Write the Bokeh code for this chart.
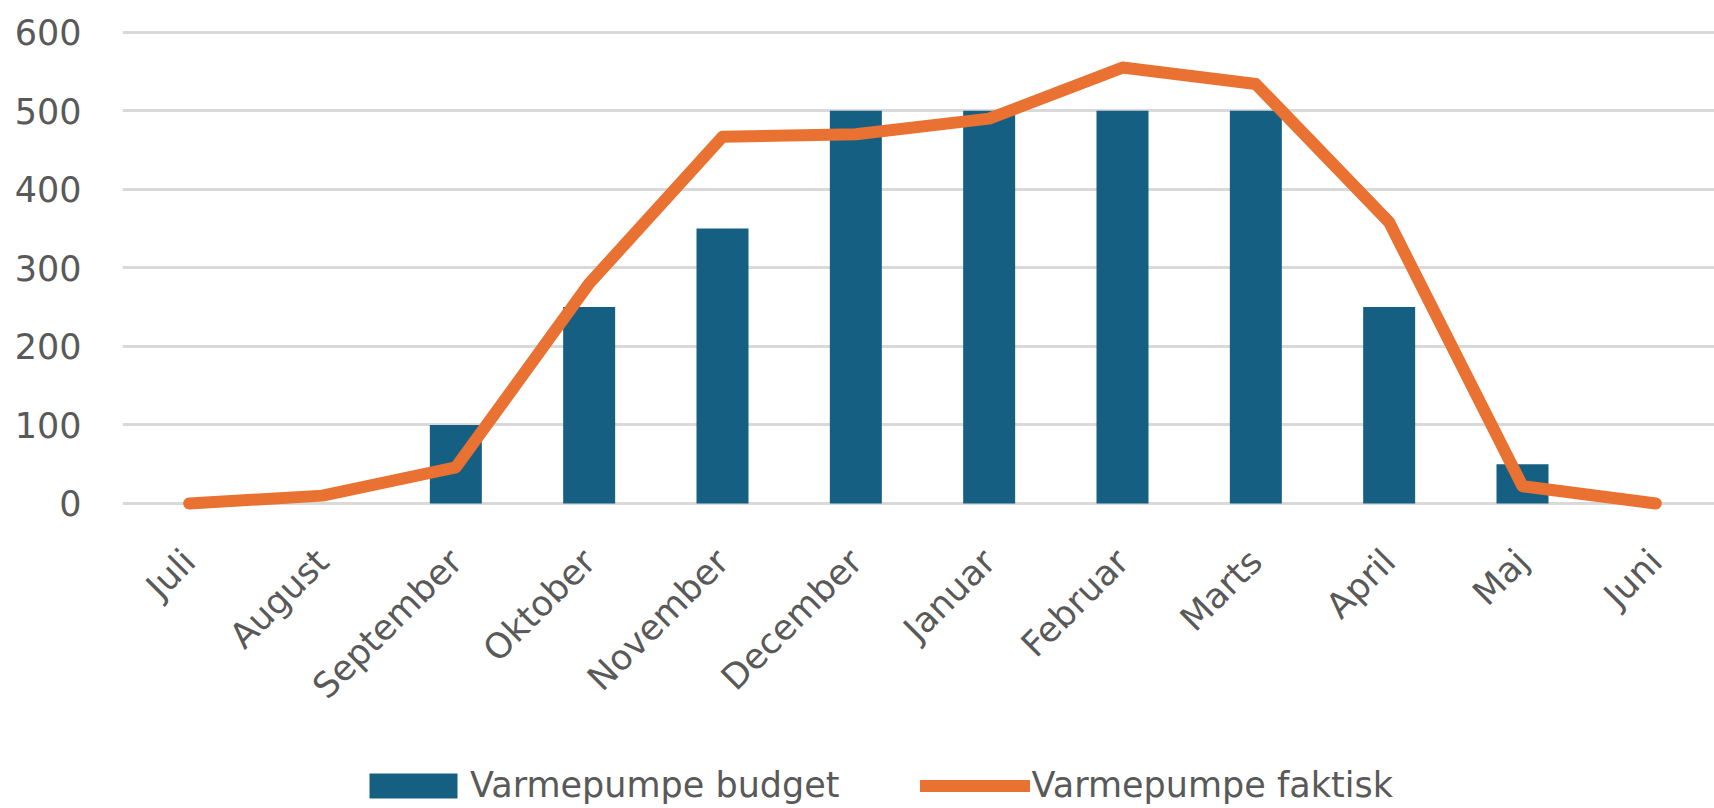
import math
from bokeh.plotting import figure
from bokeh.layouts import column
from bokeh.models import Range1d, FixedTicker, Legend, LegendItem
from bokeh.embed import file_html
from bokeh.resources import INLINE

months = ["Juli", "August", "September", "Oktober", "November", "December",
          "Januar", "Februar", "Marts", "April", "Maj", "Juni"]
budget = [0, 0, 100, 250, 350, 500, 500, 500, 500, 250, 50, 0]
faktisk = [0, 10, 46, 280, 467, 470, 490, 555, 534, 358, 22, 0]
y_ticks = [0, 100, 200, 300, 400, 500, 600]
series_names = ["Varmepumpe budget", "Varmepumpe faktisk"]

x = list(range(len(months)))

FONT = "DejaVu Sans"
TXT = "#595959"
BLUE = "#156082"
ORANGE = "#E97132"

H_MAIN = 760
H_LEG = 48

p = figure(width=1714, height=H_MAIN, output_backend="svg", toolbar_location=None,
           x_range=Range1d(-0.5, 11.44), y_range=Range1d(-15.3, 620),
           min_border_left=122, min_border_right=0, min_border_top=16,
           min_border_bottom=H_MAIN - 515)
p.outline_line_color = None
p.background_fill_color = "white"
p.border_fill_color = "white"

bars = p.vbar(x=x, top=budget, width=0.39, fill_color=BLUE, line_color=None)
line = p.line(x=x, y=faktisk, line_color=ORANGE, line_width=12,
              line_join="round", line_cap="round")

p.xgrid.grid_line_color = None
p.ygrid.grid_line_color = "#D9D9D9"
p.ygrid.grid_line_width = 3
p.ygrid.ticker = FixedTicker(ticks=y_ticks)

ya = p.yaxis[0]
ya.ticker = FixedTicker(ticks=y_ticks)
ya.axis_line_color = None
ya.major_tick_line_color = None
ya.minor_tick_line_color = None
ya.major_tick_out = 0
ya.minor_tick_out = 0
ya.major_label_standoff = 41
ya.major_label_text_font = FONT
ya.major_label_text_font_size = "35px"
ya.major_label_text_color = TXT

xa = p.xaxis[0]
xa.ticker = FixedTicker(ticks=x)
xa.major_label_overrides = {i: m for i, m in zip(x, months)}
xa.major_label_orientation = math.pi / 4
xa.axis_line_color = None
xa.major_tick_line_color = None
xa.minor_tick_line_color = None
xa.major_tick_out = 0
xa.minor_tick_out = 0
xa.major_label_standoff = 40
xa.major_label_text_font = FONT
xa.major_label_text_font_size = "35px"
xa.major_label_text_color = TXT

# legend strip below the chart (its frame is aligned with the chart's frame)
lf = figure(width=1714, height=H_LEG, output_backend="svg", toolbar_location=None,
            x_range=Range1d(0, 1), y_range=Range1d(0, 1),
            x_axis_type=None, y_axis_type=None,
            min_border_left=0, min_border_right=0, min_border_top=0, min_border_bottom=0)
lf.outline_line_color = None
lf.xgrid.grid_line_color = None
lf.ygrid.grid_line_color = None
lf.background_fill_color = "white"
lf.border_fill_color = "white"
# off-screen stand-ins that only provide the legend swatches
lb = lf.vbar(x=[-5], top=[0], width=0.39, fill_color=BLUE, line_color=None)
ll = lf.line(x=[-5, -4], y=[0, 0], line_color=ORANGE, line_width=12, line_cap="round")

legend = Legend(items=[LegendItem(label=series_names[0], renderers=[lb]),
                       LegendItem(label=series_names[1], renderers=[ll])],
                orientation="horizontal", location=(236, 3),
                glyph_width=110, glyph_height=31, label_standoff=2, spacing=80,
                padding=0, margin=0, border_line_color=None, background_fill_alpha=0,
                label_text_font=FONT, label_text_font_size="35px", label_text_color=TXT)
lf.add_layout(legend, "center")

layout = column(p, lf, spacing=0)
open("out.html", "w").write(file_html(layout, INLINE))
